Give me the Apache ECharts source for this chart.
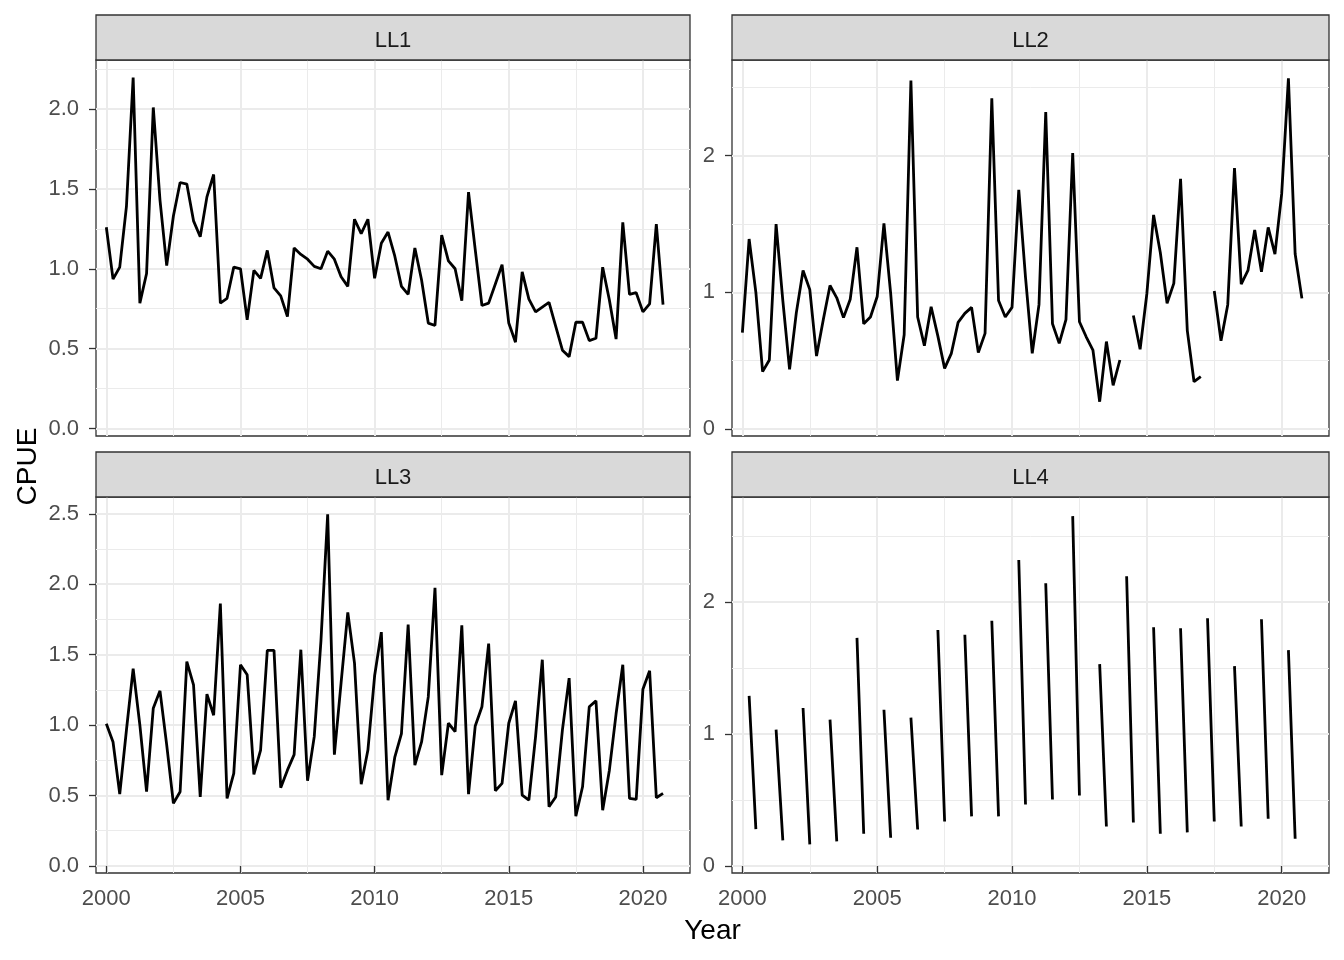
<!DOCTYPE html>
<html>
<head>
<meta charset="utf-8">
<script src="https://cdn.jsdelivr.net/npm/echarts@6/dist/echarts.min.js"></script>
<style>
html,body{margin:0;padding:0;background:#ffffff;}
#chart{width:1344px;height:960px;}
</style>
</head>
<body>
<div id="chart"></div>
<script>
// ---- data ----
const years = [2000,2001,2002,2003,2004,2005,2006,2007,2008,2009,2010,2011,2012,2013,2014,2015,2016,2017,2018,2019,2020];
const quarterOffsets = [0, 0.25, 0.5, 0.75];
const panelNames = ['LL1', 'LL2', 'LL3', 'LL4'];

// quarterly CPUE, year by year (Q1..Q4)
const ll1 = [
  1.26, 0.935, 1.01, 1.39,
  2.197, 0.785, 0.97, 2.01,
  1.43, 1.02, 1.33, 1.54,
  1.53, 1.30, 1.20, 1.45,
  1.59, 0.785, 0.815, 1.01,
  1.00, 0.68, 0.99, 0.94,
  1.115, 0.88, 0.83, 0.70,
  1.13, 1.09, 1.06, 1.015,
  1.00, 1.11, 1.06, 0.95,
  0.89, 1.31, 1.22, 1.31,
  0.94, 1.16, 1.23, 1.08,
  0.89, 0.84, 1.13, 0.93,
  0.66, 0.645, 1.21, 1.05,
  1.00, 0.80, 1.48, 1.12,
  0.77, 0.785, 0.905, 1.025,
  0.66, 0.54, 0.98, 0.81,
  0.73, 0.76, 0.79, 0.64,
  0.49, 0.45, 0.665, 0.665,
  0.55, 0.565, 1.01, 0.805,
  0.56, 1.29, 0.84, 0.85,
  0.73, 0.78, 1.28, 0.775
];
const ll2 = [
  0.705, 1.39, 1.00, 0.42,
  0.505, 1.50, 0.94, 0.437,
  0.85, 1.16, 1.02, 0.534,
  0.80, 1.05, 0.96, 0.815,
  0.95, 1.33, 0.77, 0.82,
  0.97, 1.505, 0.99, 0.354,
  0.69, 2.55, 0.82, 0.61,
  0.895, 0.68, 0.444, 0.554,
  0.78, 0.846, 0.89, 0.56,
  0.70, 2.42, 0.94, 0.82,
  0.89, 1.75, 1.11, 0.554,
  0.91, 2.32, 0.77, 0.627,
  0.80, 2.02, 0.785, 0.675,
  0.578, 0.20, 0.64, 0.32,
  0.505, null, 0.83, 0.583,
  0.99, 1.566, 1.29, 0.92,
  1.066, 1.83, 0.72, 0.346,
  0.383, null, 1.01, 0.646,
  0.91, 1.91, 1.06, 1.16,
  1.456, 1.15, 1.475, 1.28,
  1.72, 2.566, 1.28, 0.956
];
const ll3 = [
  1.01, 0.88, 0.51, 0.965,
  1.40, 1.00, 0.527, 1.12,
  1.243, 0.86, 0.444, 0.527,
  1.45, 1.286, 0.49, 1.22,
  1.07, 1.862, 0.48, 0.657,
  1.428, 1.357, 0.65, 0.823,
  1.53, 1.53, 0.555, 0.68,
  0.79, 1.535, 0.605, 0.918,
  1.60, 2.496, 0.79, 1.30,
  1.80, 1.44, 0.58, 0.823,
  1.35, 1.66, 0.467, 0.77,
  0.94, 1.713, 0.716, 0.88,
  1.20, 1.974, 0.645, 1.013,
  0.954, 1.708, 0.51, 0.994,
  1.13, 1.578, 0.534, 0.586,
  1.013, 1.172, 0.503, 0.467,
  0.92, 1.464, 0.42, 0.49,
  0.966, 1.333, 0.353, 0.562,
  1.13, 1.172, 0.396, 0.68,
  1.08, 1.428, 0.48, 0.472,
  1.255, 1.385, 0.484, 0.515
];
// LL4 only has Q2 and Q3 values
const ll4Q2 = [1.29, 1.034, 1.198, 1.11, 1.73, 1.185, 1.125, 1.79, 1.753, 1.86, 2.32, 2.144, 2.653, 1.531, 2.197, 1.81, 1.803, 1.879, 1.516, 1.871, 1.637];
const ll4Q3 = [0.28, 0.194, 0.164, 0.187, 0.245, 0.214, 0.277, 0.338, 0.376, 0.376, 0.467, 0.504, 0.535, 0.30, 0.33, 0.245, 0.255, 0.338, 0.30, 0.358, 0.207];

// tick labels
const xTicks = [2000, 2005, 2010, 2015, 2020];
const xMinorTicks = [2002.5, 2007.5, 2012.5, 2017.5];
const yTicksLL1 = [0, 0.5, 1, 1.5, 2];
const yMinorLL1 = [0.25, 0.75, 1.25, 1.75, 2.25];
const yTicksLL2 = [0, 1, 2];
const yMinorLL2 = [0.5, 1.5, 2.5];
const yTicksLL3 = [0, 0.5, 1, 1.5, 2, 2.5];
const yMinorLL3 = [0.25, 0.75, 1.25, 1.75, 2.25];
const yTicksLL4 = [0, 1, 2];
const yMinorLL4 = [0.5, 1.5, 2.5];

// ---- build ----
const time = years.flatMap(y => quarterOffsets.map(q => y + q));
const ll4 = years.flatMap((y, i) => [null, ll4Q2[i], ll4Q3[i], null]);
const seriesValues = [ll1, ll2, ll3, ll4];

const FONT = '"Liberation Sans", Arial, sans-serif';
const X_MIN = 1999.615, X_MAX = 2021.755;

const panels = [
  {left: 96,  top: 60,  width: 594, height: 376, yMin: -0.047, yMax: 2.307, ticks: yTicksLL1, minor: yMinorLL1, dec: 1, bottomRow: false},
  {left: 732, top: 60,  width: 597, height: 376, yMin: -0.051, yMax: 2.700, ticks: yTicksLL2, minor: yMinorLL2, dec: 0, bottomRow: false},
  {left: 96,  top: 497, width: 594, height: 376, yMin: -0.050, yMax: 2.619, ticks: yTicksLL3, minor: yMinorLL3, dec: 1, bottomRow: true},
  {left: 732, top: 497, width: 597, height: 376, yMin: -0.053, yMax: 2.798, ticks: yTicksLL4, minor: yMinorLL4, dec: 0, bottomRow: true}
];

const grid = [], xAxis = [], yAxis = [], series = [], graphic = [];
const majorGrid = {color: '#EBEBEB', width: 2};
const minorGrid = {color: '#EBEBEB', width: 1};

panels.forEach((p, i) => {
  grid.push({left: p.left, top: p.top, width: p.width, height: p.height,
    show: true, backgroundColor: '#ffffff', borderColor: '#333333', borderWidth: 1.3,
    containLabel: false, outerBoundsMode: 'none'});
  xAxis.push({
    type: 'value', gridIndex: i, min: X_MIN, max: X_MAX, position: 'bottom',
    axisLine: {show: false},
    axisTick: {show: p.bottomRow, length: 7, customValues: xTicks, lineStyle: {color: '#333333', width: 1.3}},
    axisLabel: {show: p.bottomRow, customValues: xTicks, margin: 15, color: '#4D4D4D', fontSize: 22, fontFamily: FONT,
      formatter: v => String(Math.round(v))},
    splitLine: {show: true, lineStyle: majorGrid}
  });
  xAxis.push({
    type: 'value', gridIndex: i, min: X_MIN, max: X_MAX, position: 'top',
    axisLine: {show: false},
    axisTick: {show: false, customValues: xMinorTicks},
    axisLabel: {show: false, customValues: xMinorTicks},
    splitLine: {show: true, lineStyle: minorGrid}
  });
  yAxis.push({
    type: 'value', gridIndex: i, min: p.yMin, max: p.yMax, position: 'left',
    axisLine: {show: false},
    axisTick: {show: true, length: 7, customValues: p.ticks, lineStyle: {color: '#333333', width: 1.3}},
    axisLabel: {show: true, customValues: p.ticks, margin: 17, color: '#4D4D4D', fontSize: 22, fontFamily: FONT,
      padding: [4, 0, 0, 0],
      formatter: v => v.toFixed(p.dec)},
    splitLine: {show: true, lineStyle: majorGrid}
  });
  yAxis.push({
    type: 'value', gridIndex: i, min: p.yMin, max: p.yMax, position: 'right',
    axisLine: {show: false},
    axisTick: {show: false, customValues: p.minor},
    axisLabel: {show: false, customValues: p.minor},
    splitLine: {show: true, lineStyle: minorGrid}
  });
  series.push({
    type: 'line', name: panelNames[i], xAxisIndex: 2 * i, yAxisIndex: 2 * i,
    data: time.map((t, k) => [t, seriesValues[i][k]]),
    showSymbol: false, symbol: 'none', connectNulls: false,
    lineStyle: {color: '#000000', width: 2.8}, itemStyle: {color: '#000000'},
    z: 5, silent: true
  });
  // strip
  graphic.push({type: 'rect', silent: true, z: 10,
    shape: {x: p.left, y: p.top - 45, width: p.width, height: 45},
    style: {fill: '#D9D9D9', stroke: '#333333', lineWidth: 1.3}});
  graphic.push({type: 'text', silent: true, z: 11,
    x: p.left + p.width / 2, y: p.top - 19.5,
    style: {text: panelNames[i], align: 'center', verticalAlign: 'middle',
      fontSize: 22, fontFamily: FONT, fill: '#1A1A1A'}});
});

// axis titles
graphic.push({type: 'text', silent: true, x: 712.5, y: 931.5,
  style: {text: 'Year', align: 'center', verticalAlign: 'middle', fontSize: 28, fontFamily: FONT, fill: '#000000'}});
graphic.push({type: 'text', silent: true, x: 28, y: 466.5, rotation: Math.PI / 2,
  style: {text: 'CPUE', align: 'center', verticalAlign: 'middle', fontSize: 28, fontFamily: FONT, fill: '#000000'}});

const chart = echarts.init(document.getElementById('chart'), null, {renderer: 'canvas'});
chart.setOption({
  animation: false,
  backgroundColor: '#ffffff',
  grid, xAxis, yAxis, series, graphic
});
</script>
</body>
</html>
